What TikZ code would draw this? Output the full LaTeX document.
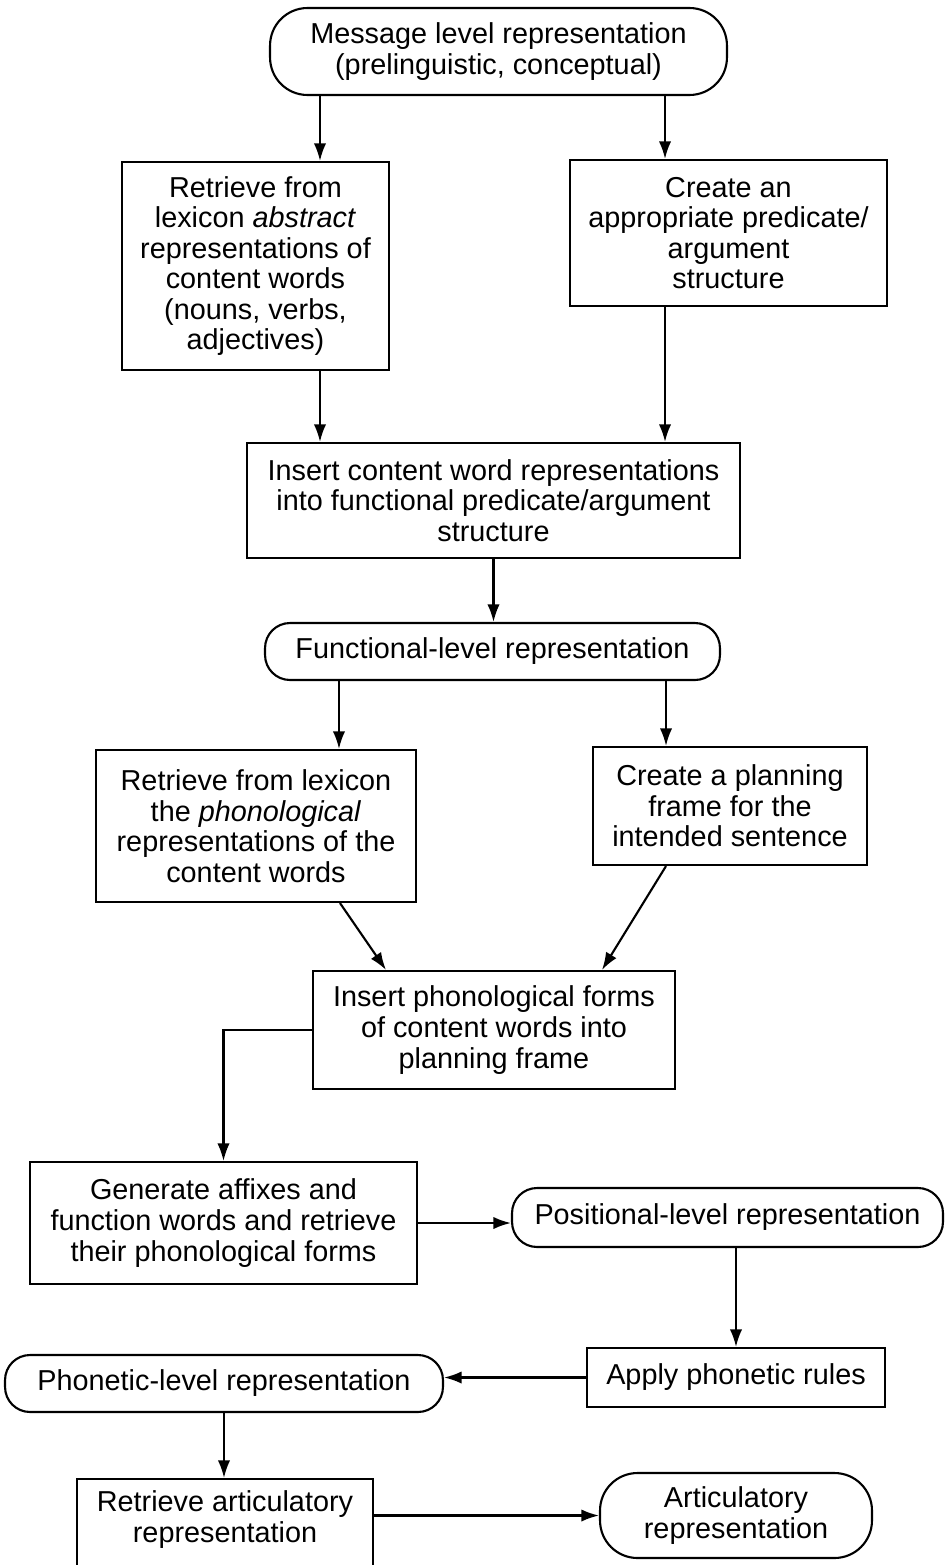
\documentclass[tikz,border=0pt]{standalone}
\usepackage{fontspec}
\setmainfont{Liberation Sans}
\usepackage{tikz}
\usetikzlibrary{arrows.meta}

\begin{document}
\begin{tikzpicture}[x=0.02cm,y=-0.02cm,line width=1.2pt,>={Latex[length=10pt,width=7pt]},
  every node/.style={font=\fontsize{16.4}{17.4}\selectfont,align=center,inner sep=2pt},
  stepbox/.style={draw,rectangle},
  levelbox/.style={draw,rectangle,rounded corners=0.5cm}]

\useasboundingbox (0,0) rectangle (945,1565);

\node[levelbox,rounded corners=0.75cm,minimum width=9.14cm,minimum height=1.74cm] (msg) at (498.5,51.5) {Message level representation\\(prelinguistic, conceptual)};

\node[stepbox,minimum width=5.34cm,minimum height=4.16cm] (lex1) at (255.5,266) {Retrieve from\\lexicon \textit{abstract}\\representations of\\content words\\(nouns, verbs,\\adjectives)};
\node[stepbox,minimum width=6.34cm,minimum height=2.92cm] (pred) at (728.5,233) {Create an\\appropriate predicate/\\argument\\structure};

\node[stepbox,minimum width=9.86cm,minimum height=2.30cm] (ins1) at (493.5,500.5) {Insert content word representations\\into functional predicate/argument\\structure};

\node[levelbox,minimum width=9.10cm,minimum height=1.14cm] (func) at (492.5,651.5) {Functional-level representation};

\node[stepbox,minimum width=6.40cm,minimum height=3.04cm] (lex2) at (256,826) {Retrieve from lexicon\\the \textit{phonological}\\representations of the\\content words};
\node[stepbox,minimum width=5.48cm,minimum height=2.36cm] (frame) at (730,806) {Create a planning\\frame for the\\intended sentence};

\node[stepbox,minimum width=7.24cm,minimum height=2.36cm] (ins2) at (494,1030) {Insert phonological forms\\of content words into\\planning frame};

\node[stepbox,minimum width=7.74cm,minimum height=2.44cm] (gen) at (223.5,1223) {Generate affixes and\\function words and retrieve\\their phonological forms};
\node[levelbox,minimum width=8.62cm,minimum height=1.18cm] (pos) at (727.5,1217.5) {Positional-level representation};

\node[stepbox,minimum width=5.96cm,minimum height=1.18cm] (apply) at (736,1377.5) {Apply phonetic rules};
\node[levelbox,minimum width=8.76cm,minimum height=1.14cm] (phon) at (224,1383.5) {Phonetic-level representation};

% bottom edge of this box falls below the page, as in the scan
\node[stepbox,minimum width=5.92cm,minimum height=2.02cm,text depth=0.52cm] (artret) at (225,1529.5) {Retrieve articulatory\\representation};
\node[levelbox,rounded corners=0.75cm,minimum width=5.44cm,minimum height=1.70cm] (artic) at (736,1515.5) {Articulatory\\representation};

\path[->] ([xshift=1.29cm]lex1.north |- msg.south) edge ([xshift=1.29cm]lex1.north)
          ([xshift=-1.27cm]pred.north |- msg.south) edge ([xshift=-1.27cm]pred.north)
          ([xshift=1.29cm]lex1.south) edge ([xshift=1.29cm]lex1.south |- ins1.north)
          ([xshift=-1.27cm]pred.south) edge ([xshift=-1.27cm]pred.south |- ins1.north)
          (ins1.south) edge (ins1.south |- func.north)
          ([xshift=1.66cm]lex2.north |- func.south) edge ([xshift=1.66cm]lex2.north)
          ([xshift=-1.28cm]frame.north |- func.south) edge ([xshift=-1.28cm]frame.north)
          ([xshift=1.68cm]lex2.south) edge ([xshift=-2.16cm]ins2.north)
          ([xshift=-1.28cm]frame.south) edge ([xshift=2.16cm]ins2.north);

\draw[->] (ins2.west) -| (gen.north);

\path[->] (gen.east) edge (gen.east -| pos.west)
          (pos.south -| apply.north) edge (apply.north)
          (apply.west) edge (apply.west -| phon.east)
          (phon.south) edge (phon.south |- artret.north)
          (artic.west -| artret.east) edge (artic.west);

\end{tikzpicture}
\end{document}
